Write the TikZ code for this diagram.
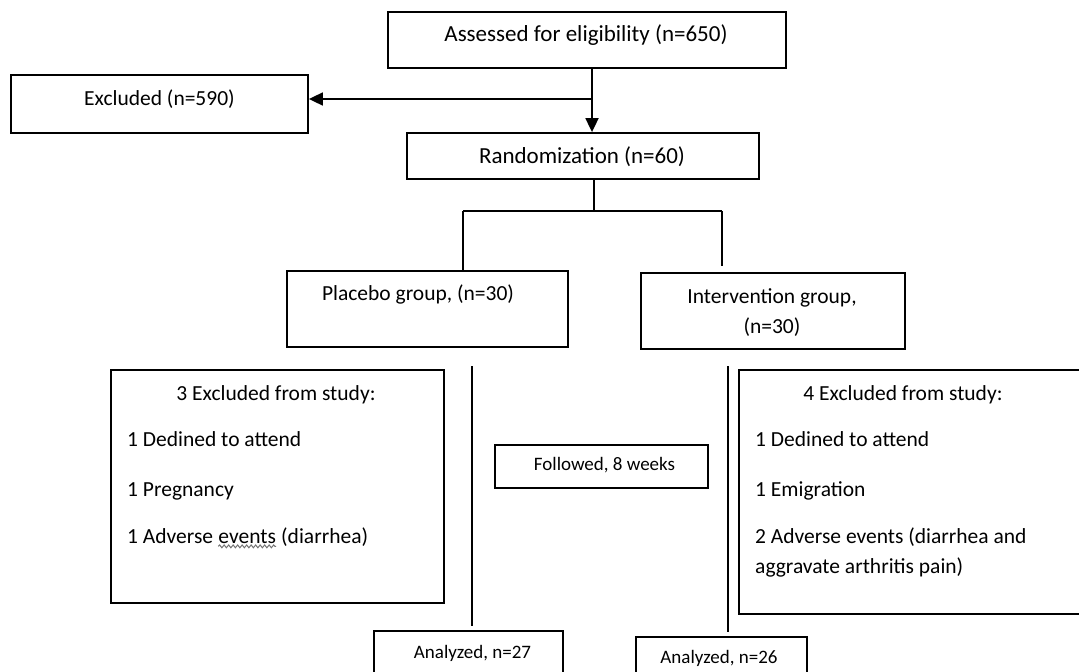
\documentclass[tikz,border=0pt]{standalone}
\usepackage{fontspec}
\setmainfont{Carlito}
\usetikzlibrary{arrows.meta,decorations.pathmorphing}
\begin{document}
\begin{tikzpicture}[x=1pt,y=-1pt,
  box/.style={draw,line width=1.8pt,inner sep=0pt},
  conn/.style={line width=1.8pt},
  arr/.style={line width=1.8pt,-{Triangle[width=13pt,length=14pt]}},
  txt/.style={inner sep=0pt,font=\fontsize{21.5}{25}\selectfont},
  big/.style={inner sep=0pt,font=\fontsize{23}{27}\selectfont},
  small/.style={inner sep=0pt,font=\fontsize{19}{23}\selectfont},
  lt/.style={txt,anchor=base west}]
\useasboundingbox (0,0) rectangle (1079,672);
\clip (0,0) rectangle (1079,672);
% boxes
\node[box,minimum width=398pt,minimum height=56pt] (assess) at (587,40) {};
\node[box,minimum width=297pt,minimum height=58pt] (excl) at (159.5,104) {};
\node[box,minimum width=352pt,minimum height=46pt] (rand) at (583,156) {};
\node[box,minimum width=281pt,minimum height=76pt] (plac) at (427.5,309) {};
\node[box,minimum width=264pt,minimum height=76pt] (interv) at (773,311) {};
\node[box,minimum width=333pt,minimum height=233pt] (exclL) at (277.5,486.5) {};
\node[box,minimum width=346pt,minimum height=244pt] (exclR) at (912,492) {};
\node[box,minimum width=213pt,minimum height=43pt] (follow) at (601.5,466.5) {};
\node[box,minimum width=189pt,minimum height=80pt] (anaL) at (468.5,671) {};
\node[box,minimum width=171pt,minimum height=80pt] (anaR) at (721.5,677) {};
% texts
\node[big] at (586,35) {Assessed for eligibility (n=650)};
\node[txt] at (159.5,99) {Excluded (n=590)};
\node[big] at (582,157) {Randomization (n=60)};
\node[txt] at (418,294) {Placebo group, (n=30)};
\node[txt] at (772,298) {Intervention group,};
\node[txt] at (772,327) {(n=30)};
\node[txt] at (276,395) {3 Excluded from study:};
\node[lt] at (127,446) {1 Dedined to attend};
\node[lt] at (127,496) {1 Pregnancy};
\node[lt] (advA) at (127,543) {1 Adverse};
\node[lt] (ev) at ([xshift=4.9pt]advA.base east) {events};
\node[lt] (diar) at ([xshift=4.9pt]ev.base east) {(diarrhea)};
\draw[black!55,line width=1pt,decorate,decoration={snake,amplitude=1.4pt,segment length=4.5pt}]
  ([yshift=-3pt]ev.south west) -- ([yshift=-3pt]ev.south east);
\node[txt] at (903,395) {4 Excluded from study:};
\node[lt] at (755,446) {1 Dedined to attend};
\node[lt] at (755,496) {1 Emigration};
\node[lt] at (755,543) {2 Adverse events (diarrhea and};
\node[lt] at (755,573) {aggravate arthritis pain)};
\node[small] at (604.5,465) {Followed, 8 weeks};
\node[small] at (472.5,653) {Analyzed, n=27};
\node[small] at (719,658) {Analyzed, n=26};
% connectors
\coordinate (split) at (592,99);
\coordinate (top) at (594,211);
\coordinate (tl) at (463,211);
\coordinate (tr) at (722,211);
\coordinate (trEnd) at (722,266);
\coordinate (lA) at (472,366);
\coordinate (lB) at (472,626);
\coordinate (rA) at (728,366);
\coordinate (rB) at (728,632);
\draw[arr] (assess.south -| split) -- (rand.north -| split);
\draw[arr] (split) -- (excl.east |- split);
\draw[conn] (rand.south -| top) -- (top);
\draw[conn] (tl) -- (tr);
\draw[conn] (tl) -- (plac.north -| tl);
\draw[conn] (tr) -- (trEnd);
\draw[conn] (lA) -- (lB);
\draw[conn] (rA) -- (rB);
\end{tikzpicture}
\end{document}
